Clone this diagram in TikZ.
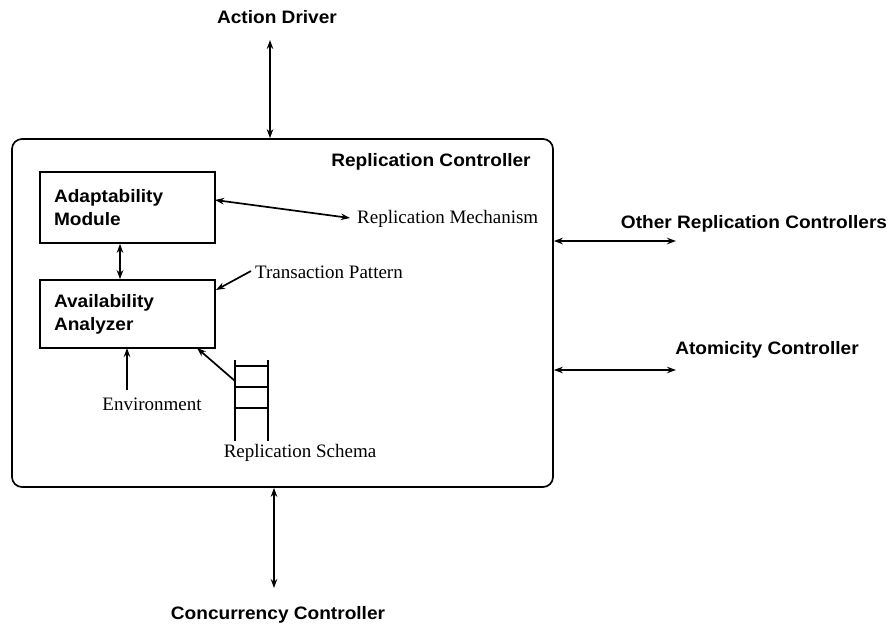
\documentclass[tikz,border=0pt]{standalone}
\usepackage{fontspec}
\setmainfont{Liberation Serif}
\newfontfamily\labfont[FakeStretch=1.06]{Liberation Sans}
\usetikzlibrary{arrows.meta}

\tikzset{
  % bold sans captions for modules and neighbouring controllers
  sanslabel/.style={font=\labfont\bfseries\fontsize{18}{23}\selectfont, inner sep=0pt},
  % plain serif captions for the inputs inside the controller
  seriflabel/.style={font=\fontsize{19}{23}\selectfont, inner sep=0pt},
  module/.style={draw, line width=1.7pt, sanslabel, minimum width=175pt,
    text width=147pt, inner xsep=14pt, align=left},
  tip/.style={Stealth[length=9pt,width=6.5pt]},
  link/.style={line width=1.7pt, {Stealth[length=9pt,width=6.5pt]}-{Stealth[length=9pt,width=6.5pt]}},
  feed/.style={line width=1.7pt, -{Stealth[length=9pt,width=6.5pt]}},
  wire/.style={line width=1.7pt}
}

\begin{document}
\begin{tikzpicture}[x=1pt,y=-1pt]
  \useasboundingbox (0,0) rectangle (888,629);

  % the replication controller frame
  \node[draw, wire, rounded corners=10pt, minimum width=541pt, minimum height=348pt,
        inner sep=0pt] (rc) at (282.5,313) {};
  \node[sanslabel] (rctitle) at (431,162) {Replication Controller};

  % internal modules
  \node[module, minimum height=71pt] (am) at (127.5,207.5) {Adaptability\\Module};
  \node[module, minimum height=68pt] (aa) at (127.5,314) {Availability\\Analyzer};

  % external parties
  \node[sanslabel] (ad)  at (277,17)  {Action Driver};
  \node[sanslabel] (cc)  at (278,615) {Concurrency Controller};
  \node[sanslabel] (orc) at (754,224) {Other Replication Controllers};
  \node[sanslabel] (ac)  at (767,350) {Atomicity Controller};

  % inputs inside the controller
  \node[seriflabel, anchor=west] (rm)  at (357,219) {Replication Mechanism};
  \node[seriflabel, anchor=west] (tp)  at (255,272) {Transaction Pattern};
  \node[seriflabel] (env) at (152,404) {Environment};
  \node[seriflabel] (rs)  at (300,453) {Replication Schema};

  % connector end points
  \coordinate (adend)  at (270,40);
  \coordinate (ccend)  at (274,588);
  \coordinate (orcend) at (676,241);
  \coordinate (acend)  at (676,370);
  \coordinate (amrm)   at (215,200);
  \coordinate (rmtip)  at (350,218);
  \coordinate (aatp)   at (216,290);
  \coordinate (envtop) at (127,390);
  \coordinate (aaenv)  at (127,348);
  \coordinate (aars)   at (197,348);

  % links to the outside
  \draw[link] (adend) -- (adend |- rc.north);
  \draw[link] (ccend |- rc.south) -- (ccend);
  \draw[link] (rc.east |- orcend) -- (orcend);
  \draw[link] (rc.east |- acend) -- (acend);

  % links inside
  \draw[link] (am.south -| 120,0) -- (aa.north -| 120,0);
  \draw[link] (amrm) -- (rmtip);
  \draw[feed] (tp.west) ++(-4,-1) -- (aatp);
  \draw[feed] (envtop) -- (aaenv);

  % replication schema drawn as a ladder of stored entries
  \coordinate (ladtl) at (235,360);
  \coordinate (ladtr) at (268,360);
  \draw[wire] (ladtl) -- (235,441);
  \draw[wire] (ladtr) -- (268,441);
  \foreach \ry in {366,387,408} \draw[wire] (235,\ry) -- (268,\ry);
  \coordinate (ladin) at (235,381);
  \draw[feed] (ladin) -- (aars);
\end{tikzpicture}
\end{document}
